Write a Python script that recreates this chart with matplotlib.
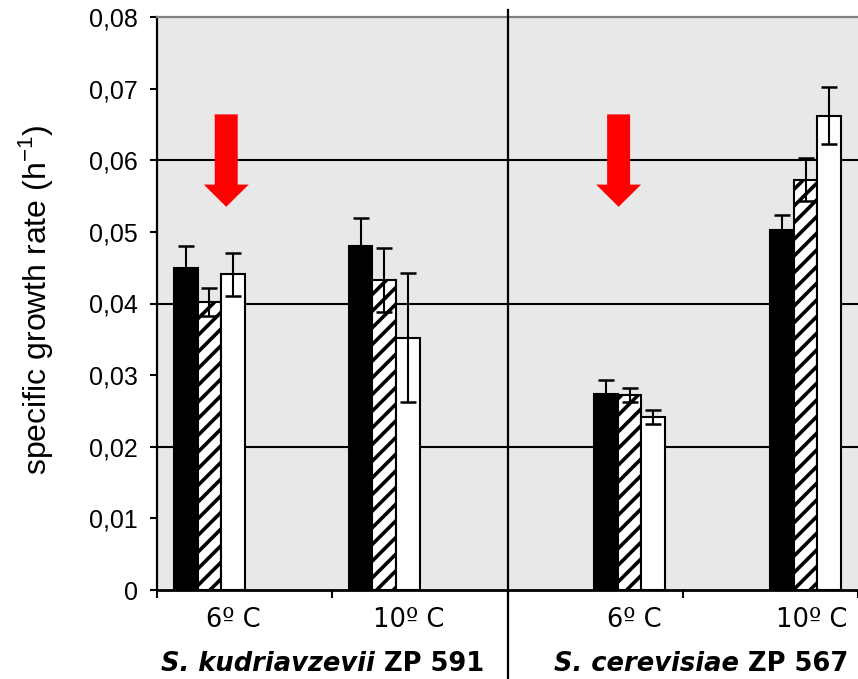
import numpy as np
import matplotlib.pyplot as plt
from matplotlib.transforms import blended_transform_factory

plt.rcParams['font.family'] = ['Liberation Sans', 'DejaVu Sans']
plt.rcParams['mathtext.fontset'] = 'custom'
plt.rcParams['mathtext.rm'] = 'Liberation Sans'
plt.rcParams['hatch.linewidth'] = 2.6

# data
temps = ['6º C', '10º C', '6º C', '10º C']
strains = ['S. kudriavzevii', 'S. cerevisiae']
strain_codes = ['ZP 591', 'ZP 567']
black_vals = [0.045, 0.048, 0.0273, 0.0503]
black_err = [0.003, 0.004, 0.002, 0.002]
hatch_vals = [0.0402, 0.0433, 0.0272, 0.0573]
hatch_err = [0.002, 0.0045, 0.001, 0.003]
white_vals = [0.0441, 0.0352, 0.0242, 0.0662]
white_err = [0.003, 0.009, 0.001, 0.004]
yticks = [0, 0.01, 0.02, 0.03, 0.04, 0.05, 0.06, 0.07, 0.08]

# layout (category units)
group_x = np.array([0.299, 1.297, 2.697, 3.701])
label_x = [0.438, 1.434, 2.726, 3.733]
split_x = [1.242, 3.322]
arrow_x = [0.395, 2.634]
bw = 0.135

fig = plt.figure(figsize=(8.58, 6.79), dpi=100)
ax = fig.add_axes([157 / 858, 89 / 679, 701 / 858, 573 / 679])
ax.set_facecolor('#e8e8e8')
ax.set_xlim(0, 701 / 175.75)
ax.set_ylim(0, 0.08)

for v in [0.02, 0.04, 0.06]:
    ax.axhline(v, color='black', lw=1.5, zorder=1)

series = [(black_vals, black_err, 'black', ''),
          (hatch_vals, hatch_err, 'white', '//'),
          (white_vals, white_err, 'white', '')]
for i, (vals, errs, fc, hatch) in enumerate(series):
    x = group_x + (i - 1) * bw
    ax.bar(x, vals, bw, color=fc, edgecolor='black', linewidth=1.5,
           hatch=hatch, zorder=2)
    ax.errorbar(x, vals, yerr=errs, fmt='none', ecolor='black',
                elinewidth=1.5, capsize=5.5, capthick=1.8, zorder=3)

# red arrows
for xa in arrow_x:
    ax.arrow(xa, 0.0664, 0, 0.0535 - 0.0664, width=0.131, head_width=0.256,
             head_length=0.0031, length_includes_head=True,
             color='#ff0000', ec='none', zorder=4)

# divider between strains
ax.axvline(2, ymin=-0.155, ymax=1.012, color='black', lw=1.6,
           clip_on=False, zorder=5)

ax.set_yticks(yticks)
ax.set_yticklabels(['0' if v == 0 else f'{v:.2f}'.replace('.', ',') for v in yticks])
ax.set_xticks([0, 1, 2, 3, 4])
ax.set_xticklabels([])
ax.tick_params(axis='y', direction='out', length=5, width=1.5, labelsize=18, pad=9)
ax.tick_params(axis='x', direction='out', length=5.5, width=1.5)

ax.spines['right'].set_visible(False)
ax.spines['top'].set_color('#808080')
ax.spines['top'].set_linewidth(1.6)
ax.spines['left'].set_linewidth(1.6)
ax.spines['bottom'].set_linewidth(2)

ax.set_ylabel('specific growth rate (h$^{\\mathregular{-1}}$)', fontsize=23)
ax.yaxis.set_label_coords(-0.146, 0.506)

trans = blended_transform_factory(ax.transData, ax.transAxes)
for xl, t in zip(label_x, temps):
    ax.text(xl, -0.0646, t, transform=trans, ha='center', va='baseline',
            fontsize=18.5, family='DejaVu Sans')

for xs, s, c in zip(split_x, strains, strain_codes):
    ax.text(xs, -0.141, s, transform=trans, ha='right', va='baseline',
            fontsize=18.5, family='DejaVu Sans', style='italic', weight='bold')
    ax.text(xs, -0.141, ' ' + c, transform=trans, ha='left', va='baseline',
            fontsize=18.5, family='DejaVu Sans', weight='bold')

fig.savefig('out.png', dpi=100)
